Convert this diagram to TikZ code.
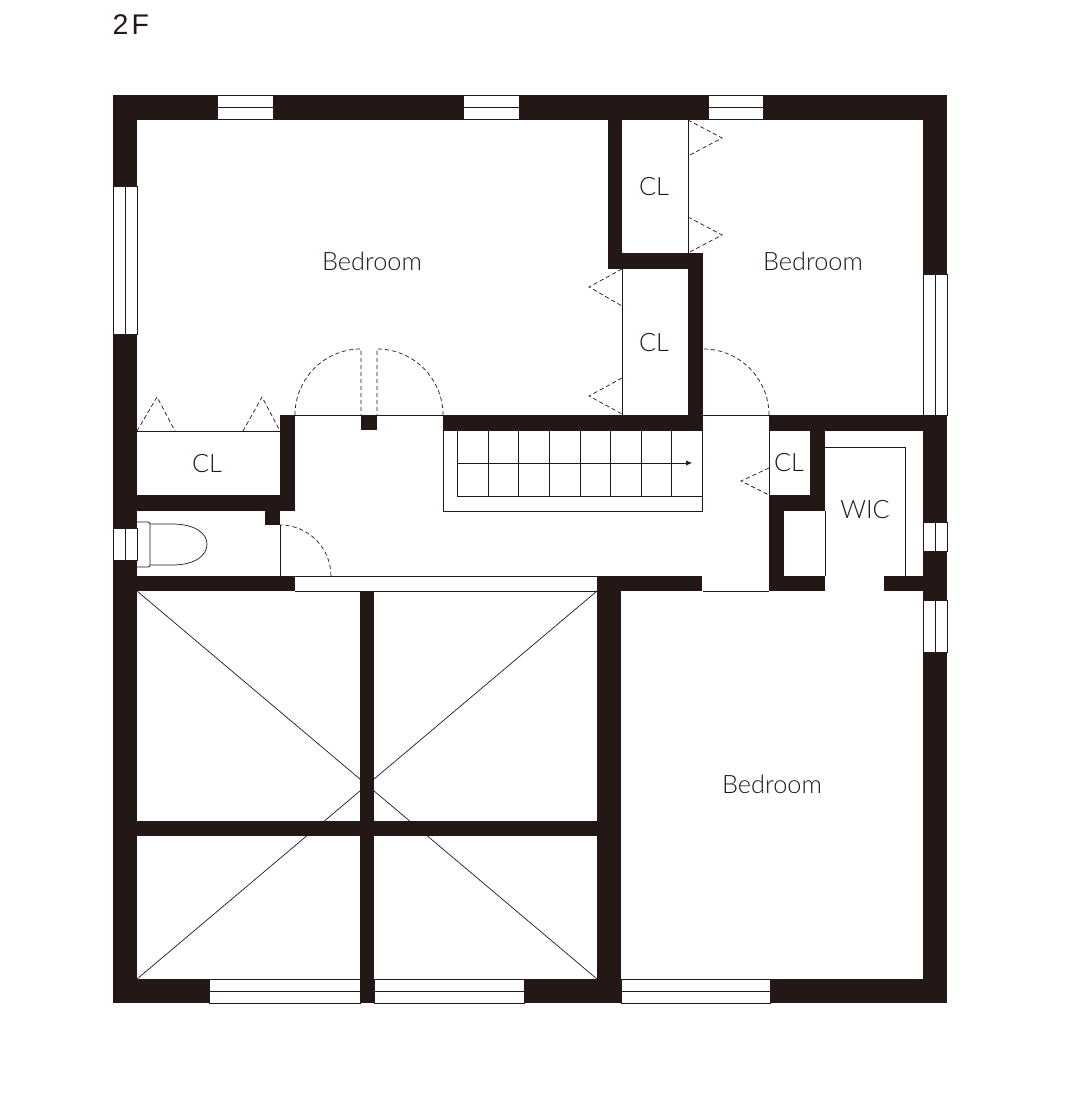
\documentclass[tikz,border=0pt]{standalone}
\usepackage{fontspec}
\setmainfont{Lato}[UprightFont=* Light]
\newfontfamily\floorfont{Liberation Sans}
\usetikzlibrary{arrows.meta}
\definecolor{wallcol}{HTML}{231815}
\tikzset{
  wall/.style={fill=wallcol, draw=none},
  thinline/.style={draw=wallcol, line width=0.2pt},
  doorline/.style={draw=wallcol, line width=0.2pt, dash pattern=on 1.2pt off 0.8pt},
  lbl/.style={text=wallcol, font=\fontsize{7.2}{8}\selectfont, inner sep=0pt}
}
\begin{document}
\begin{tikzpicture}[x=0.01cm, y=-0.01cm]
  \useasboundingbox (0,0) rectangle (1080,1100);

  \draw[thinline] (137,591) -- (597,979);
  \draw[thinline] (597,591) -- (137,979);

  \foreach \xa/\ya/\xb/\yb in {
      113/95/217/119.5, 273/95/463/119.5, 519/95/708/119.5, 763/95/947/119.5,
      113/95/137/186, 113/334/137/528, 113/560/137/1003,
      923/95/947/274, 923/415/947/522, 923/551/947/600, 923/652/947/1003,
      113/979/209/1003, 524/979/621/1003, 770/979/947/1003,
      360/591/374/1003, 137/821/597/836, 597/576/621/1003,
      137/576/295/591, 597/576/702/591,
      137/495/295/511, 280/415/295/511, 265/511/280/525, 361/415/377/430,
      443/415/703/431, 688/253/703/431, 608/253/703/269, 608/119/622/269,
      769/415/947/431, 810/431/825/511, 769/495/825/511, 769/495/784/591,
      769/576/825/591, 884/576/923/591}
    \fill[wall] (\xa,\ya) rectangle (\xb,\yb);

  \foreach \xa/\xb in {217/273, 463/519, 708/763} {
    \draw[thinline] (\xa,95) rectangle (\xb,119.5);
    \draw[thinline] (\xa,107) -- (\xb,107);
  }
  \foreach \xa/\xb in {209/360, 374/524, 621/770} {
    \draw[thinline] (\xa,979) rectangle (\xb,1003);
    \draw[thinline] (\xa,991) -- (\xb,991);
  }
  \foreach \ya/\yb in {186/334, 528/560} {
    \draw[thinline] (113,\ya) rectangle (137,\yb);
    \draw[thinline] (125,\ya) -- (125,\yb);
  }
  \foreach \ya/\yb in {274/415, 522/551, 600/652} {
    \draw[thinline] (923,\ya) rectangle (947,\yb);
    \draw[thinline] (935,\ya) -- (935,\yb);
  }

  \draw[thinline] (295,415) -- (443,415);
  \draw[thinline] (703,415) -- (769,415);
  \draw[thinline] (703,591) -- (769,591);
  \draw[thinline] (295,576) -- (597,576);
  \draw[thinline] (295,591) -- (597,591);
  \draw[thinline] (137,431) -- (280,431);
  \draw[thinline] (622,269) -- (622,415);
  \draw[thinline] (688,119.5) -- (688,253);
  \draw[thinline] (769,431) -- (769,495);
  \draw[thinline] (825,511) -- (825,576);
  \draw[thinline] (280.5,525) -- (280.5,576);
  \draw[thinline] (825,447) -- (905,447) -- (905,576);

  \draw[thinline] (443,431) -- (443,511) -- (702,511) -- (702,431);
  \draw[thinline] (457,431) -- (457,496) -- (702,496);
  \foreach \xa in {488,518,549,580,610,641,671}
    \draw[thinline] (\xa,431) -- (\xa,496);
  \draw[thinline, -{Latex[length=1.7pt,width=1.5pt]}] (457,463) -- (692,463);

  \draw[doorline] (137,431) -- (157,397) -- (175,431);
  \draw[doorline] (243,431) -- (262,397) -- (280,431);
  \draw[doorline] (622,269) -- (589,287) -- (622,306);
  \draw[doorline] (622,378) -- (589,396) -- (622,414);
  \draw[doorline] (688,120) -- (722,138) -- (688,156);
  \draw[doorline] (688,217) -- (722,235) -- (688,253);
  \draw[doorline] (769,468) -- (741,481) -- (769,495);

  \draw[doorline] (295,415) arc[start angle=180, end angle=90, radius=0.66cm] -- (361,415);
  \draw[doorline] (443,415) arc[start angle=0, end angle=90, radius=0.66cm] -- (377,415);
  \draw[doorline] (769,415) arc[start angle=0, end angle=90, radius=0.66cm];
  \draw[doorline] (331,576) arc[start angle=0, end angle=90, radius=0.51cm];

  \draw[thinline, rounded corners=0.02cm] (137,522) -- (150,522) -- (150,567) -- (137,567);
  \draw[thinline] (150,524) -- (172,524) .. controls (196,524) and (207,534) .. (207,544)
    .. controls (207,555) and (196,565) .. (172,565) -- (150,565);

  \node[lbl] (bedroomA) at (372,261) {Bedroom};
  \node[lbl] (bedroomB) at (813,261) {Bedroom};
  \node[lbl] (bedroomC) at (772,784) {Bedroom};
  \node[lbl] (clA) at (654,187) {CL};
  \node[lbl] (clB) at (654,343) {CL};
  \node[lbl] (clC) at (207,464) {CL};
  \node[lbl] (clD) at (789,463) {CL};
  \node[lbl] (wic) at (865,510) {WIC};
  \node[lbl, anchor=west, font=\floorfont\fontsize{8.1}{9}\selectfont] (floor) at (112,25) {2\kern0.9pt F};
\end{tikzpicture}
\end{document}
